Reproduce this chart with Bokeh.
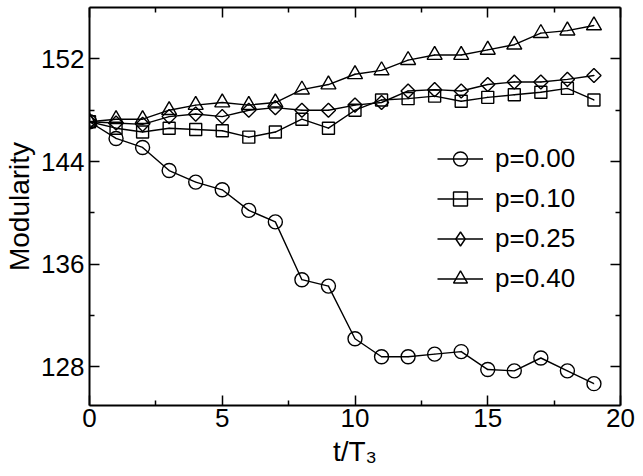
import math
from bokeh.plotting import figure
from bokeh.models import (LinearAxis, FixedTicker, Range1d, Legend, LegendItem)
from bokeh.embed import file_html
from bokeh.resources import INLINE

# ---- data ----
t = list(range(20))
p000 = [147.1, 145.8, 145.1, 143.3, 142.4, 141.8, 140.2, 139.3, 134.8, 134.3,
        130.2, 128.8, 128.8, 129.0, 129.2, 127.8, 127.7, 128.7, 127.7, 126.7]
p010 = [147.1, 146.6, 146.3, 146.6, 146.5, 146.4, 145.9, 146.3, 147.3, 146.6,
        148.0, 148.8, 148.9, 149.1, 148.7, 149.0, 149.2, 149.4, 149.7, 148.8]
p025 = [147.1, 147.0, 146.9, 147.5, 147.7, 147.5, 148.0, 148.2, 148.0, 148.0,
        148.4, 148.6, 149.5, 149.6, 149.5, 150.0, 150.2, 150.2, 150.4, 150.7]
p040 = [147.1, 147.3, 147.3, 148.0, 148.4, 148.6, 148.4, 148.6, 149.6, 150.0,
        150.8, 151.1, 151.9, 152.3, 152.3, 152.7, 153.1, 154.0, 154.2, 154.6]
labels = ["p=0.00", "p=0.10", "p=0.25", "p=0.40"]
x_ticks = [0, 5, 10, 15, 20]
x_minor = [2.5, 7.5, 12.5, 17.5]
y_ticks = [128, 136, 144, 152]
y_minor = [132, 140, 148]

FONT = "Liberation Sans"

p = figure(width=643, height=476, output_backend="svg", toolbar_location=None,
           x_range=Range1d(0, 20), y_range=Range1d(125, 156),
           min_border_left=89, min_border_right=23, min_border_top=7, min_border_bottom=71)
p.xgrid.visible = False
p.ygrid.visible = False
p.outline_line_color = None
p.background_fill_color = "white"
p.border_fill_color = "white"

def style_axis(ax, ticks, minor, show_labels=True):
    ax.ticker = FixedTicker(ticks=ticks, minor_ticks=minor)
    ax.axis_line_color = "black"
    ax.axis_line_width = 2
    ax.major_tick_line_color = "black"
    ax.major_tick_line_width = 1.5
    ax.minor_tick_line_color = "black"
    ax.minor_tick_line_width = 1.5
    ax.major_tick_in = 10
    ax.major_tick_out = 0
    ax.minor_tick_in = 5
    ax.minor_tick_out = 0
    if show_labels:
        ax.major_label_text_font = FONT
        ax.major_label_text_font_size = "26px"
        ax.major_label_text_color = "black"
    else:
        ax.major_label_overrides = {v: "" for v in ticks}
        ax.major_label_text_font_size = "1px"
        ax.major_label_standoff = 0

style_axis(p.xaxis[0], x_ticks, x_minor)
style_axis(p.yaxis[0], y_ticks, y_minor)
p.xaxis[0].major_label_standoff = 3
p.yaxis[0].major_label_standoff = 5

# axis titles
p.yaxis[0].axis_label = "Modularity"
p.yaxis[0].axis_label_text_font = FONT
p.yaxis[0].axis_label_text_font_size = "28px"
p.yaxis[0].axis_label_text_font_style = "normal"
p.yaxis[0].axis_label_text_color = "black"
p.yaxis[0].axis_label_standoff = 3
p.xaxis[0].axis_label = "t/T\u2083"
p.xaxis[0].axis_label_text_font = FONT
p.xaxis[0].axis_label_text_font_size = "28px"
p.xaxis[0].axis_label_text_font_style = "normal"
p.xaxis[0].axis_label_text_color = "black"
p.xaxis[0].axis_label_standoff = 6

top = LinearAxis()
style_axis(top, x_ticks, x_minor, show_labels=False)
p.add_layout(top, "above")
right = LinearAxis()
style_axis(right, y_ticks, y_minor, show_labels=False)
p.add_layout(right, "right")

series = [p000, p010, p025, p040]
markers = [("circle", 14, 0.0), ("square", 12, 0.0), ("square", 10, math.pi / 4), ("triangle", 15, 0.0)]
legend_markers = ["circle", "square", "diamond", "triangle"]
items = []
for vals, (mk, sz, ang), lmk, lab in zip(series, markers, legend_markers, labels):
    ln = p.line(t, vals, line_color="black", line_width=1.4)
    p.scatter(t, vals, marker=mk, size=sz, angle=ang, fill_color=None,
              line_color="black", line_width=1.4)
    # legend key: same points, drawn at a negligible size inside the real markers
    key = p.scatter(t, vals, marker=lmk, size=0.1, fill_color=None,
                    line_color="black", line_width=1.4)
    items.append(LegendItem(label=lab, renderers=[ln, key]))

legend = Legend(items=items, location=(348, 107))
legend.label_text_font = FONT
legend.label_text_font_size = "26px"
legend.label_text_color = "black"
legend.label_height = 40
legend.glyph_height = 35
legend.glyph_width = 46
legend.label_standoff = 12
legend.spacing = 0
legend.padding = 5
legend.margin = 0
legend.border_line_color = None
legend.background_fill_alpha = 0
p.add_layout(legend, "center")

open("out.html", "w").write(file_html(p, INLINE))
